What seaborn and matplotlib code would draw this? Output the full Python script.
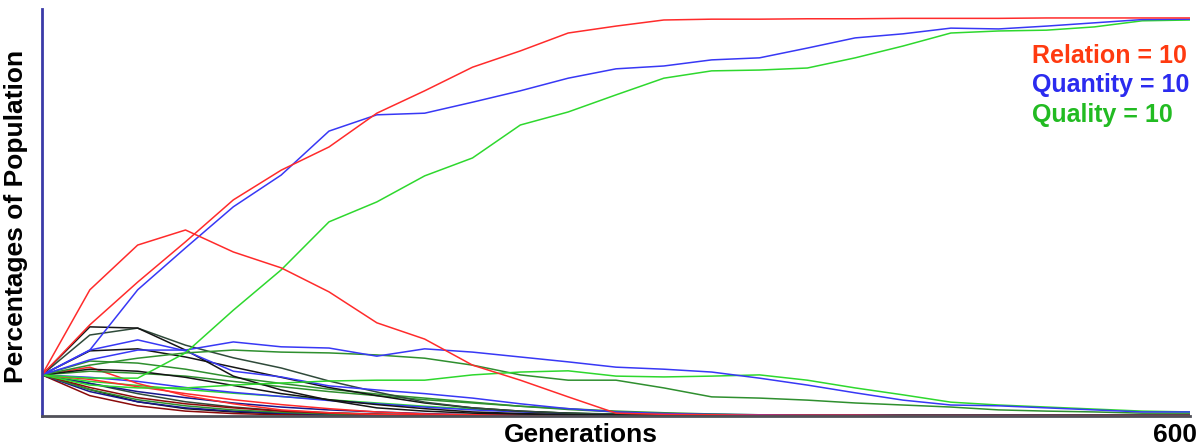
import matplotlib
matplotlib.use('Agg')
import matplotlib.pyplot as plt
import matplotlib.transforms as mtransforms
import seaborn as sns
import pandas as pd

# generations sampled every 25 steps
generations = list(range(0, 601, 25))

# share of population (%) per strategy
relation_win = [10.1, 22.4, 32.9, 42.8, 53.1, 60.4, 66.1, 74.4, 79.9, 85.7,
                89.7, 94.1, 95.8, 97.3, 97.5, 97.5, 97.6, 97.6, 97.7, 97.7,
                97.7, 97.8, 97.8, 97.8, 97.8]
relation_hump = [10.1, 31.0, 42.0, 45.7, 40.3, 36.4, 30.5, 22.9, 18.9, 12.5,
                 8.8, 4.7, 0.7, 0.4, 0.3, 0.2, 0.2, 0.2, 0.1, 0.1,
                 0.1, 0.1, 0.1, 0.1, 0.1]
relation_low1 = [10.1, 9.0, 7.2, 5.5, 4.0, 2.8, 1.8, 1.0, 0.5, 0.3,
                 0.2, 0.2, 0.1, 0.1, 0.1, 0.1, 0.1, 0.1, 0.1, 0.1,
                 0.1, 0.1, 0.1, 0.1, 0.1]
relation_low2 = [10.1, 5.0, 2.5, 1.2, 0.6, 0.3, 0.2, 0.1, 0.1, 0.1,
                 0.1, 0.1, 0.1, 0.1, 0.1, 0.1, 0.1, 0.1, 0.1, 0.1,
                 0.1, 0.1, 0.1, 0.1, 0.1]
relation_low3 = [10.1, 12.0, 8.0, 5.0, 3.0, 1.5, 0.8, 0.4, 0.2, 0.2,
                 0.1, 0.1, 0.1, 0.1, 0.1, 0.1, 0.1, 0.1, 0.1, 0.1,
                 0.1, 0.1, 0.1, 0.1, 0.1]
relation_low4 = [10.1, 7.0, 4.5, 3.0, 2.0, 1.2, 0.7, 0.4, 0.2, 0.2,
                 0.1, 0.1, 0.1, 0.1, 0.1, 0.1, 0.1, 0.1, 0.1, 0.1,
                 0.1, 0.1, 0.1, 0.1, 0.1]

quantity_win = [10.1, 16.2, 31.0, 41.3, 51.4, 59.2, 70.0, 74.0, 74.4, 77.1,
                79.9, 83.0, 85.3, 86.0, 87.5, 88.0, 90.4, 92.9, 93.9, 95.3,
                95.1, 95.8, 96.6, 97.4, 97.5]
quantity_mid = [10.1, 13.8, 16.2, 16.2, 18.2, 17.0, 16.7, 14.7, 16.5, 15.7,
                14.5, 13.3, 12.0, 11.5, 10.8, 9.3, 7.6, 5.7, 3.9, 2.7,
                2.5, 2.0, 1.5, 1.0, 1.0]
quantity_low1 = [10.1, 16.2, 18.7, 16.0, 11.0, 9.6, 7.4, 6.4, 5.5, 4.4,
                 3.0, 1.8, 1.0, 0.6, 0.4, 0.3, 0.2, 0.2, 0.1, 0.1,
                 0.1, 0.1, 0.1, 0.1, 0.1]
quantity_low2 = [10.1, 9.5, 8.5, 7.0, 5.8, 4.8, 3.8, 3.0, 2.2, 1.5,
                 1.0, 0.6, 0.4, 0.2, 0.2, 0.1, 0.1, 0.1, 0.1, 0.1,
                 0.1, 0.1, 0.1, 0.1, 0.1]
quantity_low3 = [10.1, 6.0, 3.5, 2.0, 1.2, 0.7, 0.4, 0.2, 0.1, 0.1,
                 0.1, 0.1, 0.1, 0.1, 0.1, 0.1, 0.1, 0.1, 0.1, 0.1,
                 0.1, 0.1, 0.1, 0.1, 0.1]
quantity_low4 = [10.1, 8.0, 6.0, 4.5, 3.2, 2.2, 1.5, 1.0, 0.6, 0.3,
                 0.2, 0.2, 0.1, 0.1, 0.1, 0.1, 0.1, 0.1, 0.1, 0.1,
                 0.1, 0.1, 0.1, 0.1, 0.1]

quality_win = [10.1, 9.3, 9.3, 15.5, 26.0, 35.9, 47.7, 52.6, 59.0, 63.4,
               71.5, 74.7, 78.9, 83.0, 84.8, 85.0, 85.5, 88.0, 90.9, 94.1,
               94.6, 94.8, 95.6, 97.1, 97.3]
quality_mid1 = [10.1, 7.6, 6.9, 6.9, 7.6, 8.1, 8.6, 8.8, 8.8, 10.1,
                10.8, 11.1, 9.8, 9.6, 9.8, 10.1, 8.8, 6.9, 5.2, 3.4,
                2.7, 2.2, 1.7, 1.2, 1.0]
quality_mid2 = [10.1, 12.5, 14.2, 15.5, 16.2, 15.7, 15.5, 15.0, 14.2, 12.5,
                10.1, 8.8, 8.8, 6.9, 4.7, 4.4, 3.9, 3.2, 2.7, 2.2,
                1.5, 1.2, 1.0, 0.7, 0.7]
quality_low1 = [10.1, 13.5, 13.0, 11.5, 9.5, 8.0, 6.6, 5.4, 4.4, 3.4,
                2.4, 1.6, 1.0, 0.6, 0.4, 0.2, 0.2, 0.1, 0.1, 0.1,
                0.1, 0.1, 0.1, 0.1, 0.1]
quality_low2 = [10.1, 8.5, 7.5, 6.5, 5.6, 4.8, 4.0, 3.2, 2.4, 1.7,
                1.1, 0.7, 0.4, 0.2, 0.2, 0.1, 0.1, 0.1, 0.1, 0.1,
                0.1, 0.1, 0.1, 0.1, 0.1]
quality_low3 = [10.1, 6.5, 4.0, 2.5, 1.5, 0.9, 0.5, 0.3, 0.2, 0.1,
                0.1, 0.1, 0.1, 0.1, 0.1, 0.1, 0.1, 0.1, 0.1, 0.1,
                0.1, 0.1, 0.1, 0.1, 0.1]
quality_low4 = [10.1, 11.0, 10.5, 9.8, 8.5, 7.2, 6.0, 5.0, 4.0, 3.2,
                2.4, 1.8, 1.2, 0.8, 0.5, 0.3, 0.2, 0.2, 0.1, 0.1,
                0.1, 0.1, 0.1, 0.1, 0.1]

other_1 = [10.1, 21.9, 21.6, 16.2, 9.8, 6.4, 3.9, 2.0, 1.2, 0.7,
           0.5, 0.3, 0.2, 0.2, 0.1, 0.1, 0.1, 0.1, 0.1, 0.1,
           0.1, 0.1, 0.1, 0.1, 0.1]
other_2 = [10.1, 19.9, 21.6, 17.4, 14.3, 11.8, 8.6, 5.9, 3.4, 2.0,
           1.2, 0.7, 0.5, 0.3, 0.2, 0.2, 0.1, 0.1, 0.1, 0.1,
           0.1, 0.1, 0.1, 0.1, 0.1]
other_3 = [10.1, 16.0, 16.5, 14.5, 12.0, 9.5, 7.0, 5.0, 3.2, 2.0,
           1.2, 0.7, 0.4, 0.2, 0.2, 0.1, 0.1, 0.1, 0.1, 0.1,
           0.1, 0.1, 0.1, 0.1, 0.1]
other_4 = [10.1, 8.0, 5.5, 3.5, 2.2, 1.3, 0.8, 0.5, 0.3, 0.2,
           0.1, 0.1, 0.1, 0.1, 0.1, 0.1, 0.1, 0.1, 0.1, 0.1,
           0.1, 0.1, 0.1, 0.1, 0.1]
other_5 = [10.1, 6.5, 3.5, 1.8, 1.0, 0.5, 0.3, 0.2, 0.1, 0.1,
           0.1, 0.1, 0.1, 0.1, 0.1, 0.1, 0.1, 0.1, 0.1, 0.1,
           0.1, 0.1, 0.1, 0.1, 0.1]
other_6 = [10.1, 11.5, 11.0, 9.5, 7.5, 5.5, 4.0, 2.8, 1.8, 1.0,
           0.6, 0.3, 0.2, 0.1, 0.1, 0.1, 0.1, 0.1, 0.1, 0.1,
           0.1, 0.1, 0.1, 0.1, 0.1]

RED, DRED = '#ff2b2b', '#8b0a0a'
BLUE, NAVY = '#3838f5', '#16168c'
LGREEN, DGREEN = '#2ed82e', '#2f8f2f'
BLACK, SLATE = '#151515', '#2f4a3a'

series = {
    'other_5': (other_5, BLACK), 'other_4': (other_4, SLATE),
    'relation_low2': (relation_low2, DRED), 'quantity_low3': (quantity_low3, NAVY),
    'quality_low3': (quality_low3, DGREEN), 'relation_low4': (relation_low4, DRED),
    'quantity_low4': (quantity_low4, NAVY), 'quality_low2': (quality_low2, LGREEN),
    'relation_low1': (relation_low1, RED), 'quantity_low2': (quantity_low2, BLUE),
    'relation_low3': (relation_low3, RED), 'quality_low4': (quality_low4, DGREEN),
    'other_6': (other_6, BLACK), 'quality_low1': (quality_low1, DGREEN),
    'other_3': (other_3, BLACK), 'other_2': (other_2, SLATE),
    'other_1': (other_1, BLACK), 'quantity_low1': (quantity_low1, BLUE),
    'quality_mid2': (quality_mid2, DGREEN), 'quality_mid1': (quality_mid1, LGREEN),
    'quantity_mid': (quantity_mid, BLUE), 'quality_win': (quality_win, LGREEN),
    'quantity_win': (quantity_win, BLUE), 'relation_hump': (relation_hump, RED),
    'relation_win': (relation_win, RED),
}

df = pd.concat(
    [pd.DataFrame({'generation': generations, 'share': vals, 'strategy': name})
     for name, (vals, _) in series.items()],
    ignore_index=True,
)
palette = {name: col for name, (_, col) in series.items()}

sns.set_style('white')
plt.rcParams['font.family'] = ['Liberation Sans', 'DejaVu Sans']

fig = plt.figure(figsize=(12.02, 4.48), dpi=100)
ax = fig.add_axes([42 / 1202, 32 / 448, 1148 / 1202, 407 / 448])

sns.lineplot(
    data=df,
    x='generation',
    y='share',
    hue='strategy',
    hue_order=list(series.keys()),
    palette=palette,
    estimator=None,
    sort=False,
    lw=1.1,
    legend=False,
    ax=ax,
)

ax.set_xlim(0, 600)
ax.set_ylim(0, 100)
ax.set_yticks([])
ax.set_xticks([600], ['600'])
ax.tick_params(axis='x', length=0, pad=5, labelsize=19, labelcolor='black')
for lab in ax.get_xticklabels():
    lab.set_fontweight('bold')
    lab.set_horizontalalignment('right')
    lab.set_transform(lab.get_transform() +
                      mtransforms.ScaledTranslation(7 / 100, 0, fig.dpi_scale_trans))

for side in ['top', 'right']:
    ax.spines[side].set_visible(False)
ax.spines['left'].set_color('#3a3aa8')
ax.spines['left'].set_linewidth(2)
ax.spines['bottom'].set_color('#505058')
ax.spines['bottom'].set_linewidth(2)

ax.set_xlabel('Generations', fontsize=19, fontweight='bold', color='black')
ax.xaxis.set_label_coords(0.469, -0.017)
ax.set_ylabel('Percentages of Population', fontsize=19, fontweight='bold', color='black')
ax.yaxis.set_label_coords(-0.012, 0.49)

for label, col, ypos in [('Relation = 10', '#ff3a10', 0.867),
                         ('Quantity = 10', '#2b2bef', 0.796),
                         ('Quality = 10', '#22bb22', 0.722)]:
    ax.text(0.862, ypos, label, transform=ax.transAxes, color=col,
            fontsize=18, fontweight='bold', va='baseline', ha='left')

fig.savefig('out.png', dpi=100)
plt.close(fig)
